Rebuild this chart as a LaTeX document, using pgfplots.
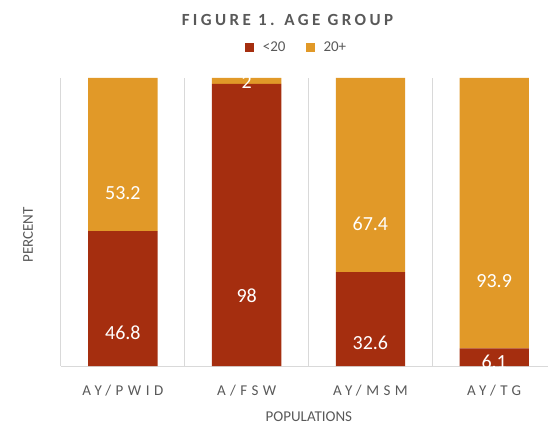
\documentclass[border=0pt]{standalone}
\usepackage{fontspec}
\setmainfont{Carlito}
\newfontfamily\spaced[LetterSpace=20]{Carlito}
\newfontfamily\spacedtick[LetterSpace=30]{Carlito}
\usepackage{pgfplots}
\usepackage{pgfplotstable}
\pgfplotsset{compat=1.18}
\definecolor{young}{RGB}{165,46,15}
\definecolor{older}{RGB}{225,153,40}
\definecolor{txt}{RGB}{89,89,89}
\definecolor{gridc}{RGB}{217,217,217}

% percent by age group
\pgfplotstableread{
x lt ge
0 46.8 53.2
1 98 2
2 32.6 67.4
3 6.1 93.9
}\agedata

\begin{document}
\begin{tikzpicture}
\begin{axis}[
  name=ax,
  scale only axis, width=487pt, height=288pt,
  ybar stacked, bar width=0.56,
  xmin=-0.5, xmax=3.435, ymin=0, ymax=100,
  axis line style={draw=none},
  xtick={0,1,2,3},
  xticklabels={AY/PWID, A/FSW, AY/MSM, AY/TG},
  xticklabel style={font=\spacedtick\fontsize{15}{18}\selectfont, text=txt, anchor=base, yshift=-29pt},
  major tick length=0pt, minor tick length=0pt,
  minor xtick={-0.5,0.5,1.5,2.5},
  xminorgrids, minor grid style={gridc, line width=1pt},
  ytick=\empty,
  extra y ticks={0}, extra y tick labels={},
  extra y tick style={grid=major, major grid style={gridc, line width=1pt}},
  title={FIGURE 1. AGE GROUP},
  title style={at={(0.465,1.179)}, anchor=center, font=\spaced\bfseries\fontsize{17}{20}\selectfont, text=txt},
  xlabel={POPULATIONS},
  xlabel style={at={(axis description cs:0.509,0)}, anchor=base, yshift=-55pt, font=\fontsize{15}{18}\selectfont, text=txt},
  ylabel={PERCENT},
  ylabel style={at={(axis description cs:-0.0678,0.455)}, anchor=center, font=\fontsize{15}{18}\selectfont, text=txt},
  legend columns=2,
  legend style={at={(0.4836,1.1076)}, anchor=center, draw=none, fill=none,
    font=\fontsize{15}{18}\selectfont, text=txt,
    /tikz/every odd column/.append style={column sep=7pt},
    /tikz/every even column/.append style={column sep=18pt}},
  legend image code/.code={\fill[#1] (0pt,-4.5pt) rectangle (9pt,4.5pt);},
  point meta=explicit,
  nodes near coords={\pgfmathprintnumber[assume math mode=true]{\pgfplotspointmeta}},
  nodes near coords style={font=\fontsize{20}{24}\selectfont, text=white, anchor=center,
    /utils/exec={\pgfkeys{/pgf/fpu=true,/pgf/fpu/output format=fixed}%
      \pgfmathsetmacro\halfy{\pgfplotspointmeta/4}\pgfkeys{/pgf/fpu=false}},
    shift={(axis direction cs:0,-\halfy)}},
]
\addplot[fill=young, draw=none] table[x=x, y=lt, meta=lt]{\agedata};
\addplot[fill=older, draw=none] table[x=x, y=ge, meta=ge]{\agedata};
\legend{<20, 20+}
\end{axis}
\pgfresetboundingbox
\path ([xshift=-61pt,yshift=-59pt]ax.south west) rectangle ([yshift=78pt]ax.north east);
\end{tikzpicture}
\end{document}
